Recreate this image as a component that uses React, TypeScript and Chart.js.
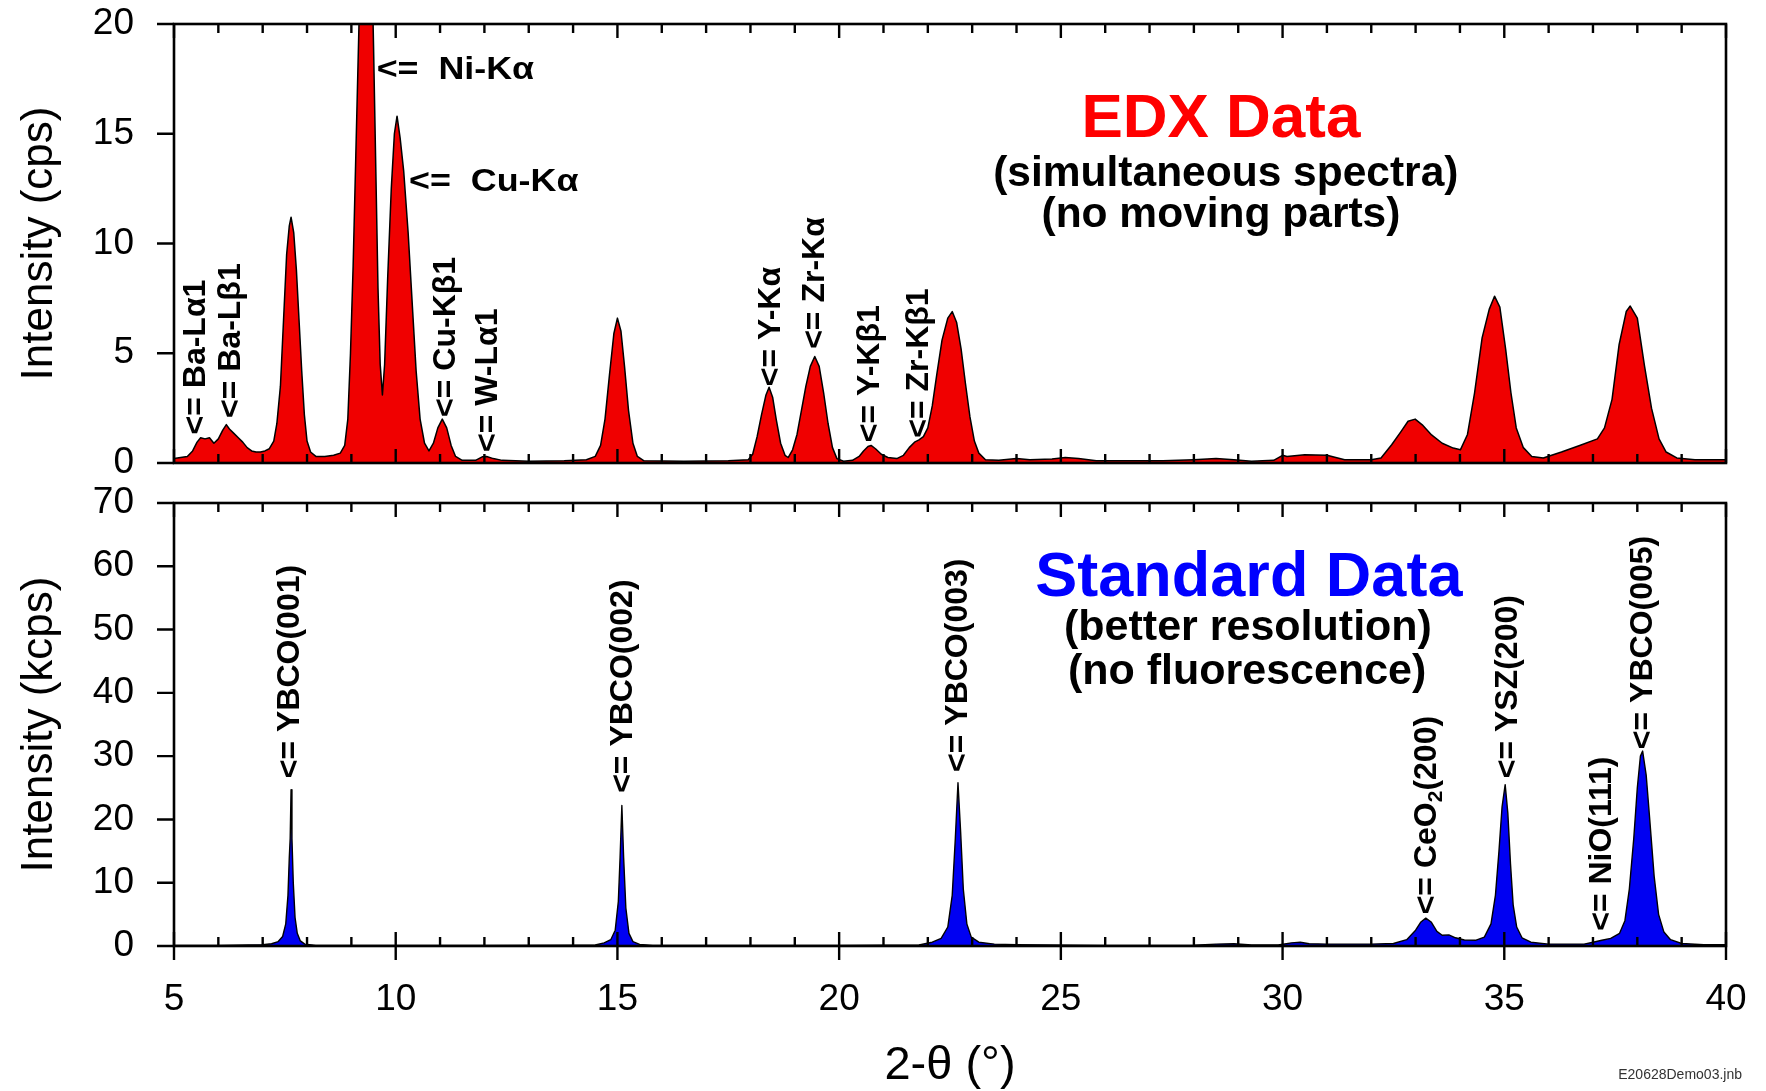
import React, { useEffect, useRef } from "react";
import { Chart, registerables } from "chart.js";

Chart.register(...registerables);

// ---------------- data ----------------
const X_MIN = 5;
const X_MAX = 40;
const MINOR_STEP = 1;
const xTickValues = [5, 10, 15, 20, 25, 30, 35, 40];
const edxYTicks = [0, 5, 10, 15, 20];
const stdYTicks = [0, 10, 20, 30, 40, 50, 60, 70];

// EDX spectrum: 2-theta (deg) and intensity (cps)
const edxAngle = [
  5.0, 5.15, 5.3, 5.42, 5.52, 5.6, 5.7, 5.8, 5.9, 6.0,
  6.1, 6.18, 6.25, 6.35, 6.45, 6.55, 6.65, 6.75, 6.85, 6.95,
  7.05, 7.15, 7.25, 7.32, 7.4, 7.47, 7.54, 7.6, 7.64, 7.7,
  7.76, 7.82, 7.88, 7.94, 8.0, 8.08, 8.2, 8.4, 8.6, 8.75,
  8.85, 8.92, 8.98, 9.04, 9.1, 9.16, 9.22, 9.3, 9.38, 9.45,
  9.5, 9.55, 9.6, 9.65, 9.7, 9.75, 9.82, 9.9, 9.97, 10.03,
  10.1, 10.18, 10.28, 10.38, 10.46, 10.55, 10.65, 10.75, 10.85, 10.95,
  11.05, 11.15, 11.25, 11.35, 11.5, 11.8, 11.95, 12.05, 12.2, 12.4,
  13.0, 13.8, 14.3, 14.5, 14.62, 14.72, 14.82, 14.92, 15.0, 15.08,
  15.16, 15.25, 15.35, 15.45, 15.6, 16.5, 17.5, 17.95, 18.05, 18.15,
  18.25, 18.35, 18.42, 18.5, 18.58, 18.68, 18.78, 18.85, 18.95, 19.05,
  19.15, 19.25, 19.35, 19.45, 19.55, 19.65, 19.75, 19.85, 19.95, 20.1,
  20.3, 20.45, 20.55, 20.65, 20.72, 20.82, 20.95, 21.1, 21.3, 21.45,
  21.58, 21.7, 21.8, 21.9, 22.0, 22.1, 22.2, 22.32, 22.45, 22.55,
  22.65, 22.75, 22.85, 22.95, 23.05, 23.15, 23.3, 23.6, 24.0, 24.3,
  24.8, 25.1, 25.4, 25.8, 26.5, 27.3, 28.0, 28.5, 28.9, 29.3,
  29.8, 30.0, 30.1, 30.5, 31.0, 31.4, 32.0, 32.22, 32.46, 32.67,
  32.83, 32.99, 33.15, 33.36, 33.6, 33.85, 34.01, 34.17, 34.33, 34.5,
  34.66, 34.78, 34.9, 35.03, 35.15, 35.27, 35.43, 35.62, 35.88, 36.29,
  36.7, 37.1, 37.26, 37.43, 37.59, 37.75, 37.84, 38.0, 38.16, 38.32,
  38.49, 38.65, 38.89, 39.3, 39.7, 40.0,
];
const edxCps = [
  0.2, 0.25, 0.3, 0.55, 0.95, 1.15, 1.1, 1.15, 0.9, 1.1,
  1.5, 1.75, 1.55, 1.35, 1.15, 0.95, 0.7, 0.55, 0.5, 0.5,
  0.55, 0.65, 1.0, 1.8, 3.5, 6.5, 9.5, 10.8, 11.2, 10.5,
  8.8, 6.5, 4.2, 2.2, 1.0, 0.5, 0.3, 0.3, 0.35, 0.45,
  0.8, 2.0, 5, 9, 14, 19, 24, 27, 27.5, 24,
  19, 13.5, 8, 4.5, 3.1, 4.5, 8.5, 12.5, 15, 15.8,
  14.8, 13.3, 10.5, 7, 4.2, 2, 0.9, 0.55, 0.9, 1.6,
  2.0, 1.6, 0.8, 0.3, 0.12, 0.12, 0.28, 0.3, 0.2, 0.12,
  0.08, 0.1, 0.15, 0.3, 0.8, 2, 4, 5.9, 6.6, 6.0,
  4.4, 2.4, 0.9, 0.3, 0.1, 0.08, 0.1, 0.15, 0.4, 1.2,
  2.2, 3.1, 3.45, 3.0, 2.0, 0.9, 0.35, 0.25, 0.6, 1.3,
  2.4, 3.5, 4.4, 4.85, 4.4, 3.2, 1.8, 0.7, 0.2, 0.08,
  0.12, 0.3, 0.55, 0.75, 0.8, 0.65, 0.4, 0.25, 0.2, 0.35,
  0.7, 0.95, 1.05, 1.2, 1.6, 2.6, 4.0, 5.6, 6.6, 6.9,
  6.4, 5.2, 3.6, 2.1, 1.0, 0.45, 0.15, 0.12, 0.2, 0.15,
  0.18, 0.25, 0.2, 0.1, 0.1, 0.1, 0.15, 0.2, 0.15, 0.08,
  0.12, 0.35, 0.3, 0.38, 0.35, 0.15, 0.15, 0.23, 0.83, 1.43,
  1.9, 2.0, 1.74, 1.28, 0.9, 0.68, 0.6, 1.3, 3.2, 5.7,
  7.0, 7.6, 7.1, 5.2, 3.2, 1.6, 0.7, 0.3, 0.23, 0.5,
  0.8, 1.1, 1.6, 2.9, 5.4, 6.9, 7.15, 6.6, 4.45, 2.5,
  1.1, 0.5, 0.23, 0.15, 0.15, 0.15,
];

// Standard (diffractometer) scan: 2-theta (deg) and intensity (kcps)
const stdAngle = [
  5.0, 6.0, 7.0, 7.2, 7.35, 7.45, 7.52, 7.57, 7.6, 7.62,
  7.64, 7.66, 7.69, 7.73, 7.78, 7.85, 7.95, 8.2, 10.0, 12.0,
  14.0, 14.5, 14.7, 14.85, 14.95, 15.02, 15.06, 15.1, 15.14, 15.19,
  15.26, 15.35, 15.5, 15.8, 18.0, 20.0, 21.8, 22.1, 22.3, 22.45,
  22.55, 22.62, 22.68, 22.74, 22.8, 22.88, 22.98, 23.15, 23.5, 24.0,
  26.0, 28.0, 28.5, 28.9, 29.3, 29.9, 30.2, 30.4, 30.6, 31.0,
  32.0, 32.5, 32.8, 33.0, 33.12, 33.23, 33.35, 33.48, 33.6, 33.75,
  33.9, 34.1, 34.35, 34.55, 34.7, 34.8, 34.88, 34.95, 35.02, 35.08,
  35.14, 35.2, 35.28, 35.4, 35.6, 36.0, 36.8, 37.0, 37.2, 37.4,
  37.6, 37.72, 37.82, 37.92, 38.0, 38.07, 38.12, 38.2, 38.28, 38.38,
  38.48, 38.6, 38.75, 39.0, 39.5, 40.0,
];
const stdKcps = [
  0.1, 0.1, 0.2, 0.35, 0.7, 1.5, 3.5, 8, 14, 17,
  24.7, 17, 10, 4.5, 2, 0.8, 0.3, 0.1, 0.1, 0.1,
  0.12, 0.15, 0.5, 1.0, 2.5, 7, 14, 22.2, 14, 6,
  2, 0.7, 0.25, 0.1, 0.1, 0.1, 0.15, 0.6, 1.2, 3,
  8, 17, 25.8, 18, 9, 3.5, 1.4, 0.6, 0.3, 0.2,
  0.1, 0.12, 0.3, 0.35, 0.15, 0.15, 0.5, 0.6, 0.35, 0.3,
  0.3, 0.4, 1.0, 2.5, 3.8, 4.4, 3.8, 2.3, 1.7, 1.75,
  1.3, 0.95, 0.9, 1.4, 3.5, 8, 15, 22, 25.5, 21,
  13, 6.5, 3, 1.3, 0.6, 0.3, 0.3, 0.6, 0.9, 1.2,
  2.0, 4, 9, 17, 25, 30, 30.8, 27, 20, 11,
  5, 2.2, 1.0, 0.4, 0.2, 0.2,
];

// peak labels (anchor = start of "<=" at data coords)
const edxLabelText = ["<= Ba-Lα1", "<= Ba-Lβ1", "<= Ni-Kα", "<= Cu-Kα", "<= Cu-Kβ1", "<= W-Lα1", "<= Y-Kα", "<= Zr-Kα", "<= Y-Kβ1", "<= Zr-Kβ1"];
const edxLabelX = [5.5, 6.3, 9.57, 10.3, 11.14, 12.08, 18.46, 19.47, 20.7, 21.8];
const edxLabelY = [1.3, 2.05, 17.9, 12.8, 2.1, 0.5, 3.5, 5.2, 0.95, 1.15];
const edxLabelVertical = [true, true, false, false, true, true, true, true, true, true];

const stdLabelText = ["<= YBCO(001)", "<= YBCO(002)", "<= YBCO(003)", "<= CeO_2(200)", "<= YSZ(200)", "<= NiO(111)", "<= YBCO(005)"];
const stdLabelX = [7.63, 15.12, 22.68, 33.26, 35.08, 37.2, 38.13];
const stdLabelY = [26.5, 24.2, 27.5, 5.0, 26.5, 2.4, 31.1];
const stdLabelVertical = [true, true, true, true, true, true, true];

// panel notes (centered, baseline at data coords)
const edxNoteText = ["EDX Data", "(simultaneous spectra)", "(no moving parts)"];
const edxNoteX = [28.61, 28.72, 28.61];
const edxNoteY = [14.85, 12.62, 10.77];
const stdNoteText = ["Standard Data", "(better resolution)", "(no fluorescence)"];
const stdNoteX = [29.24, 29.22, 29.2];
const stdNoteY = [55.3, 48.35, 41.4];

const footerText = "E20628Demo03.jnb";

// ---------------- styles / layout ----------------
const W = 1766;
const H = 1091;
const FONT = '"Liberation Sans", Arial, Helvetica, sans-serif';
const RED = "#f00000";
const BLUE = "#0000f2";
const PLOT_LEFT = 174;
const PLOT_RIGHT_PAD = 40;
const TOP_PANEL = { top: 24, bottom: 463 };
const BOT_PANEL = { top: 503, bottom: 946 };

function segments(text: string) {
  const out: { t: string; sub: boolean }[] = [];
  const re = /_(\w)/g;
  let last = 0;
  let m: RegExpExecArray | null;
  while ((m = re.exec(text))) {
    if (m.index > last) out.push({ t: text.slice(last, m.index), sub: false });
    out.push({ t: m[1], sub: true });
    last = m.index + m[0].length;
  }
  if (last < text.length) out.push({ t: text.slice(last), sub: false });
  return out;
}

function makeOverlay(cfg: any) {
  return {
    id: "overlay",
    afterDatasetsDraw(chart: any) {
      const { ctx, chartArea } = chart;
      const xS = chart.scales.x;
      const yS = chart.scales.y;
      const { left, right, top, bottom } = chartArea;
      ctx.save();
      // frame
      ctx.strokeStyle = "#000";
      ctx.lineWidth = 2.6;
      ctx.lineCap = "butt";
      ctx.strokeRect(left, top, right - left, bottom - top);
      // ticks
      ctx.lineWidth = 2.4;
      ctx.beginPath();
      for (let v = X_MIN; v <= X_MAX + 1e-9; v += MINOR_STEP) {
        const px = xS.getPixelForValue(v);
        const major = Math.abs(v % 5) < 1e-9;
        const inLen = major ? 14 : 9;
        ctx.moveTo(px, top);
        ctx.lineTo(px, top + inLen);
        ctx.moveTo(px, bottom + (major && cfg.outwardBottom ? 14 : 0));
        ctx.lineTo(px, bottom - inLen);
      }
      for (const v of cfg.yTicks) {
        const py = yS.getPixelForValue(v);
        ctx.moveTo(left - 17, py);
        ctx.lineTo(left, py);
      }
      ctx.stroke();

      // peak labels
      ctx.fillStyle = "#000";
      ctx.textAlign = "left";
      ctx.textBaseline = "middle";
      cfg.labelText.forEach((txt: string, i: number) => {
        const px = xS.getPixelForValue(cfg.labelX[i]);
        const py = yS.getPixelForValue(cfg.labelY[i]);
        const vertical = cfg.labelVertical[i];
        ctx.save();
        ctx.translate(px, py);
        if (vertical) ctx.rotate(-Math.PI / 2);
        else ctx.scale(1.12, 1);
        let cx = 0;
        const shown = vertical ? txt : txt.replace("<= ", "<=  ");
        for (const seg of segments(shown)) {
          if (seg.sub) {
            ctx.font = `bold 21px ${FONT}`;
            ctx.fillText(seg.t, cx, 9);
          } else {
            ctx.font = `bold 32px ${FONT}`;
            ctx.fillText(seg.t, cx, 0);
          }
          cx += ctx.measureText(seg.t).width;
        }
        ctx.restore();
      });

      // notes
      ctx.textAlign = "center";
      ctx.textBaseline = "alphabetic";
      cfg.noteText.forEach((txt: string, i: number) => {
        ctx.font = `bold ${cfg.noteSize[i]}px ${FONT}`;
        ctx.fillStyle = cfg.noteColor[i];
        ctx.fillText(txt, xS.getPixelForValue(cfg.noteX[i]), yS.getPixelForValue(cfg.noteY[i]));
      });

      if (cfg.footer) {
        ctx.font = `14px ${FONT}`;
        ctx.fillStyle = "#333";
        ctx.textAlign = "right";
        ctx.fillText(cfg.footer, right + 16, bottom + 133);
      }
      ctx.restore();
    },
  };
}

function yScale(min: number, max: number, ticks: number[], title: string) {
  return {
    type: "linear",
    min,
    max,
    afterBuildTicks: (s: any) => {
      s.ticks = ticks.map((v) => ({ value: v }));
    },
    ticks: { font: { family: FONT, size: 37 }, color: "#000", padding: 40 },
    grid: { display: false, drawTicks: false, tickLength: 0 },
    border: { display: false },
    title: {
      display: true,
      text: title,
      color: "#000",
      font: { family: FONT, size: 44 },
      padding: { top: 13, bottom: 0 },
    },
    afterFit: (s: any) => {
      s.width = PLOT_LEFT;
      s.paddingTop = 0;
      s.paddingBottom = 0;
    },
  };
}

function topConfig(): any {
  return {
    type: "line",
    data: {
      datasets: [
        {
          data: edxAngle.map((x, i) => ({ x, y: edxCps[i] })),
          borderColor: "#000",
          borderWidth: 1.5,
          borderJoinStyle: "round",
          backgroundColor: RED,
          fill: "origin",
          pointRadius: 0,
          tension: 0,
        },
      ],
    },
    options: {
      animation: false,
      responsive: false,
      devicePixelRatio: 1,
      events: [],
      layout: { padding: { top: TOP_PANEL.top, right: PLOT_RIGHT_PAD, bottom: H - TOP_PANEL.bottom, left: 0 } },
      plugins: { legend: { display: false }, tooltip: { enabled: false } },
      scales: {
        x: { type: "linear", min: X_MIN, max: X_MAX, display: false },
        y: yScale(0, 20, edxYTicks, "Intensity (cps)"),
      },
    },
    plugins: [
      makeOverlay({
        yTicks: edxYTicks,
        outwardBottom: false,
        labelText: edxLabelText,
        labelX: edxLabelX,
        labelY: edxLabelY,
        labelVertical: edxLabelVertical,
        noteText: edxNoteText,
        noteX: edxNoteX,
        noteY: edxNoteY,
        noteSize: [62, 42.5, 42.5],
        noteColor: ["#ff0000", "#000", "#000"],
      }),
    ],
  };
}

function bottomConfig(): any {
  return {
    type: "line",
    data: {
      datasets: [
        {
          data: stdAngle.map((x, i) => ({ x, y: stdKcps[i] })),
          borderColor: "#000",
          borderWidth: 1.4,
          borderJoinStyle: "round",
          backgroundColor: BLUE,
          fill: "origin",
          pointRadius: 0,
          tension: 0,
        },
      ],
    },
    options: {
      animation: false,
      responsive: false,
      devicePixelRatio: 1,
      events: [],
      layout: { padding: { top: BOT_PANEL.top, right: PLOT_RIGHT_PAD, bottom: 0, left: 0 } },
      plugins: { legend: { display: false }, tooltip: { enabled: false } },
      scales: {
        x: {
          type: "linear",
          min: X_MIN,
          max: X_MAX,
          afterBuildTicks: (s: any) => {
            s.ticks = xTickValues.map((v) => ({ value: v }));
          },
          ticks: { font: { family: FONT, size: 37 }, color: "#000", padding: 32, maxRotation: 0, autoSkip: false },
          grid: { display: false, drawTicks: false, tickLength: 0 },
          border: { display: false },
          title: {
            display: true,
            text: "2-θ (°)",
            color: "#000",
            font: { family: FONT, size: 47 },
            padding: { top: 0, bottom: -3 },
          },
          afterFit: (s: any) => {
            s.height = H - BOT_PANEL.bottom;
            s.paddingLeft = 0;
            s.paddingRight = 0;
          },
        },
        y: yScale(0, 70, stdYTicks, "Intensity (kcps)"),
      },
    },
    plugins: [
      makeOverlay({
        yTicks: stdYTicks,
        outwardBottom: true,
        labelText: stdLabelText,
        labelX: stdLabelX,
        labelY: stdLabelY,
        labelVertical: stdLabelVertical,
        noteText: stdNoteText,
        noteX: stdNoteX,
        noteY: stdNoteY,
        noteSize: [63, 43, 43],
        noteColor: ["#0000ff", "#000", "#000"],
        footer: footerText,
      }),
    ],
  };
}

export default function App() {
  const topRef = useRef<HTMLCanvasElement>(null);
  const botRef = useRef<HTMLCanvasElement>(null);

  useEffect(() => {
    document.body.style.margin = "0";
    document.body.style.overflow = "hidden";
    const c1 = new Chart(topRef.current as HTMLCanvasElement, topConfig());
    const c2 = new Chart(botRef.current as HTMLCanvasElement, bottomConfig());
    return () => {
      c1.destroy();
      c2.destroy();
    };
  }, []);

  const canvasStyle: React.CSSProperties = { position: "absolute", left: 0, top: 0, width: W, height: H };
  return (
    <div style={{ position: "absolute", left: 0, top: 0, width: W, height: H, background: "#fff", overflow: "hidden" }}>
      <canvas ref={topRef} width={W} height={H} style={canvasStyle} />
      <canvas ref={botRef} width={W} height={H} style={canvasStyle} />
    </div>
  );
}
